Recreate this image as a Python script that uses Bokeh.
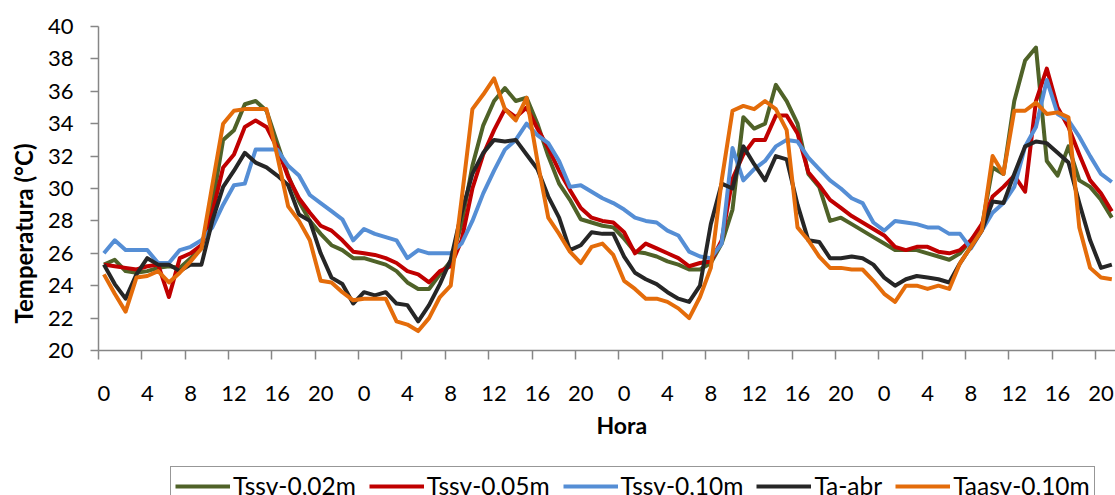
from bokeh.plotting import figure
from bokeh.layouts import column
from bokeh.models import Range1d, FixedTicker, Legend, LegendItem, Title
from bokeh.embed import file_html
from bokeh.resources import INLINE

# ---- data (hourly readings, 4 days, chart cropped at right edge) ----
tick_positions = [0, 4, 8, 12, 16, 20, 24, 28, 32, 36, 40, 44, 48, 52, 56, 60, 64, 68, 72, 76, 80, 84, 88, 92]
tick_labels = ["0", "4", "8", "12", "16", "20"] * 4

series_names = ["Tssv-0,02m", "Tssv-0,05m", "Tssv-0,10m", "Ta-abr", "Taasv-0,10m"]

tssv_002 = [
    25.3, 25.6, 24.9, 24.8, 24.9, 25.1, 25.2, 25.1, 25.7, 26.3, 29.0, 33.0, 33.6, 35.2, 35.4, 34.8, 32.8, 30.8, 29.2, 28.0, 27.2, 26.5, 26.2, 25.7,
    25.7, 25.5, 25.3, 24.9, 24.2, 23.8, 23.8, 24.7, 25.5, 27.8, 31.4, 33.9, 35.4, 36.2, 35.4, 35.6, 34.0, 32.0, 30.3, 29.3, 28.1, 27.9, 27.7, 27.6,
    26.9, 26.1, 26.0, 25.8, 25.5, 25.3, 25.0, 25.0, 25.4, 26.6, 28.7, 34.4, 33.7, 34.0, 36.4, 35.4, 34.0, 30.9, 30.1, 28.0, 28.2, 27.8, 27.4, 27.0,
    26.6, 26.2, 26.2, 26.2, 26.0, 25.8, 25.6, 26.0, 26.8, 27.6, 31.3, 30.9, 35.4, 37.9, 38.7, 31.7, 30.8, 32.6, 30.5, 30.1, 29.3, 28.2]

tssv_005 = [
    25.3, 25.2, 25.1, 25.0, 25.2, 25.3, 23.3, 25.7, 26.0, 26.5, 28.5, 31.3, 32.1, 33.8, 34.2, 33.8, 32.5, 30.7, 29.4, 28.5, 27.7, 27.4, 26.8, 26.1,
    26.0, 25.9, 25.7, 25.4, 24.9, 24.7, 24.2, 24.9, 25.2, 26.8, 30.0, 32.1, 33.6, 34.9, 34.4, 35.0, 33.7, 32.5, 31.1, 29.9, 28.8, 28.2, 28.0, 27.9,
    27.3, 26.0, 26.6, 26.3, 26.0, 25.7, 25.2, 25.4, 25.5, 26.8, 30.6, 32.1, 33.0, 33.0, 34.5, 34.5, 33.4, 31.0, 30.2, 29.3, 28.8, 28.3, 27.9, 27.5,
    27.1, 26.4, 26.2, 26.4, 26.4, 26.1, 26.0, 26.2, 26.8, 27.8, 29.5, 30.1, 30.8, 29.8, 35.4, 37.4, 35.0, 33.8, 32.1, 30.5, 29.7, 28.6]

tssv_010 = [
    26.0, 26.8, 26.2, 26.2, 26.2, 25.4, 25.4, 26.2, 26.4, 26.8, 27.6, 29.0, 30.2, 30.3, 32.4, 32.4, 32.4, 31.4, 30.8, 29.6, 29.1, 28.6, 28.1, 26.8,
    27.5, 27.2, 27.0, 26.8, 25.7, 26.2, 26.0, 26.0, 26.0, 26.6, 28.0, 29.7, 31.1, 32.4, 33.0, 34.0, 33.3, 32.8, 31.7, 30.1, 30.2, 29.8, 29.4, 29.1,
    28.7, 28.2, 28.0, 27.9, 27.4, 27.1, 26.1, 25.8, 25.7, 26.6, 32.5, 30.5, 31.2, 31.7, 32.6, 33.0, 32.9, 31.9, 31.2, 30.5, 30.0, 29.4, 29.1, 27.9,
    27.4, 28.0, 27.9, 27.8, 27.6, 27.6, 27.2, 27.2, 26.3, 27.4, 28.5, 29.1, 30.1, 32.6, 33.8, 36.7, 34.6, 34.2, 33.2, 32.0, 30.9, 30.4]

ta_abr = [
    25.3, 24.1, 23.2, 24.7, 25.7, 25.3, 25.3, 24.9, 25.3, 25.3, 28.0, 30.1, 31.1, 32.2, 31.6, 31.3, 30.8, 30.2, 28.4, 28.0, 26.0, 24.5, 24.1, 22.9,
    23.6, 23.4, 23.6, 22.9, 22.8, 21.8, 22.8, 24.1, 25.6, 28.5, 30.9, 32.2, 33.0, 32.9, 33.0, 32.1, 31.2, 29.5, 28.2, 26.2, 26.5, 27.3, 27.2, 27.2,
    25.8, 24.8, 24.4, 24.1, 23.6, 23.2, 23.0, 24.0, 27.8, 30.3, 30.0, 32.6, 31.5, 30.5, 32.0, 31.8, 29.0, 26.8, 26.7, 25.7, 25.7, 25.8, 25.7, 25.3,
    24.5, 24.0, 24.4, 24.6, 24.5, 24.4, 24.2, 25.4, 26.4, 27.4, 29.2, 29.1, 30.9, 32.6, 32.9, 32.8, 32.2, 31.6, 29.1, 26.8, 25.1, 25.3]

taasv_010 = [
    24.7, 23.5, 22.4, 24.5, 24.6, 24.9, 24.2, 24.8, 25.5, 26.3, 30.2, 34.0, 34.8, 34.9, 34.9, 34.9, 32.0, 28.9, 28.0, 26.8, 24.3, 24.2, 23.6, 23.1,
    23.2, 23.2, 23.2, 21.8, 21.6, 21.2, 22.0, 23.3, 24.0, 29.3, 34.9, 35.8, 36.8, 34.9, 34.2, 35.6, 31.7, 28.2, 27.2, 26.1, 25.4, 26.4, 26.6, 25.9,
    24.3, 23.8, 23.2, 23.2, 23.0, 22.6, 22.0, 23.3, 25.1, 30.5, 34.8, 35.1, 34.9, 35.4, 34.9, 33.6, 27.6, 26.8, 25.8, 25.1, 25.1, 25.0, 25.0, 24.3,
    23.5, 23.0, 24.0, 24.0, 23.8, 24.0, 23.8, 25.4, 26.4, 27.4, 32.0, 30.9, 34.8, 34.8, 35.3, 34.6, 34.7, 34.4, 27.6, 25.1, 24.5, 24.4]

colors = ["#4F6228", "#C00000", "#558ED5", "#262626", "#E46C0A"]
all_series = [tssv_002, tssv_005, tssv_010, ta_abr, taasv_010]

FONT = "Lato"
AXIS_GRAY = "#868686"

# ---------------- main chart ----------------
p = figure(width=1115, height=463, output_backend="svg", toolbar_location=None,
           x_range=Range1d(-0.5, 93.34), y_range=Range1d(20, 40),
           min_border_left=97, min_border_right=0, min_border_top=26, min_border_bottom=113)
p.outline_line_color = None
p.grid.visible = False
p.background_fill_color = "white"
p.border_fill_color = "white"

# x axis: labels at category centres, tick marks at category boundaries
xax = p.xaxis[0]
boundaries = [t - 0.5 for t in tick_positions] + [95.5]
xax.ticker = FixedTicker(ticks=tick_positions, minor_ticks=boundaries)
xax.major_label_overrides = {t: l for t, l in zip(tick_positions, tick_labels)}
xax.major_tick_out = 0
xax.major_tick_in = 0
xax.minor_tick_out = 9
xax.minor_tick_in = 0
xax.minor_tick_line_color = AXIS_GRAY
xax.minor_tick_line_width = 1.5
xax.axis_line_color = AXIS_GRAY
xax.axis_line_width = 1.5
xax.major_label_text_font = FONT
xax.major_label_text_font_size = "22px"
xax.major_label_text_color = "black"
xax.major_label_standoff = 26

yax = p.yaxis[0]
yax.ticker = FixedTicker(ticks=[20, 22, 24, 26, 28, 30, 32, 34, 36, 38, 40])
yax.major_tick_out = 8
yax.major_tick_in = 0
yax.minor_tick_out = 0
yax.minor_tick_in = 0
yax.major_tick_line_color = AXIS_GRAY
yax.major_tick_line_width = 1.5
yax.axis_line_color = AXIS_GRAY
yax.axis_line_width = 1.5
yax.major_label_text_font = FONT
yax.major_label_text_font_size = "22px"
yax.major_label_text_color = "black"
yax.major_label_standoff = 17

p.add_layout(Title(text="Temperatura (°C)", align="left", offset=27, standoff=13,
                   text_font=FONT, text_font_size="24px", text_font_style="bold",
                   text_color="black"), "left")
p.add_layout(Title(text="Hora", align="left", offset=498, standoff=10,
                   text_font=FONT, text_font_size="23px", text_font_style="bold",
                   text_color="black"), "below")

x = list(range(len(tssv_002)))
for name, col, ys in zip(series_names, colors, all_series):
    p.line(x, ys, line_color=col, line_width=4, line_join="round")

# ---------------- legend strip (cropped at the bottom like the original) ----------------
# same frame geometry as the main chart; the series lie outside this strip's
# y range so only their legend entries are visible
p2 = figure(width=1115, height=32, output_backend="svg", toolbar_location=None,
            x_range=Range1d(-0.5, 93.34), y_range=Range1d(0, 1),
            x_axis_location=None, y_axis_location=None,
            min_border_left=97, min_border_right=0, min_border_top=0, min_border_bottom=0)
p2.outline_line_color = None
p2.grid.visible = False
p2.background_fill_color = "white"
p2.border_fill_color = "white"

items = []
for name, col, ys in zip(series_names, colors, all_series):
    r = p2.line(x, ys, line_color=col, line_width=4)
    items.append(LegendItem(label=name, renderers=[r]))

legend = Legend(items=items, orientation="horizontal", location=(72, -10),
                label_text_font=FONT, label_text_font_size="24.5px", label_text_color="black",
                glyph_width=55, glyph_height=20, label_standoff=3, spacing=13,
                padding=4, margin=0, border_line_color="#303030", border_line_width=1,
                background_fill_color="white", background_fill_alpha=1.0)
p2.add_layout(legend, "center")

layout = column(p, p2, spacing=0)
open("out.html", "w").write(file_html(layout, INLINE))
